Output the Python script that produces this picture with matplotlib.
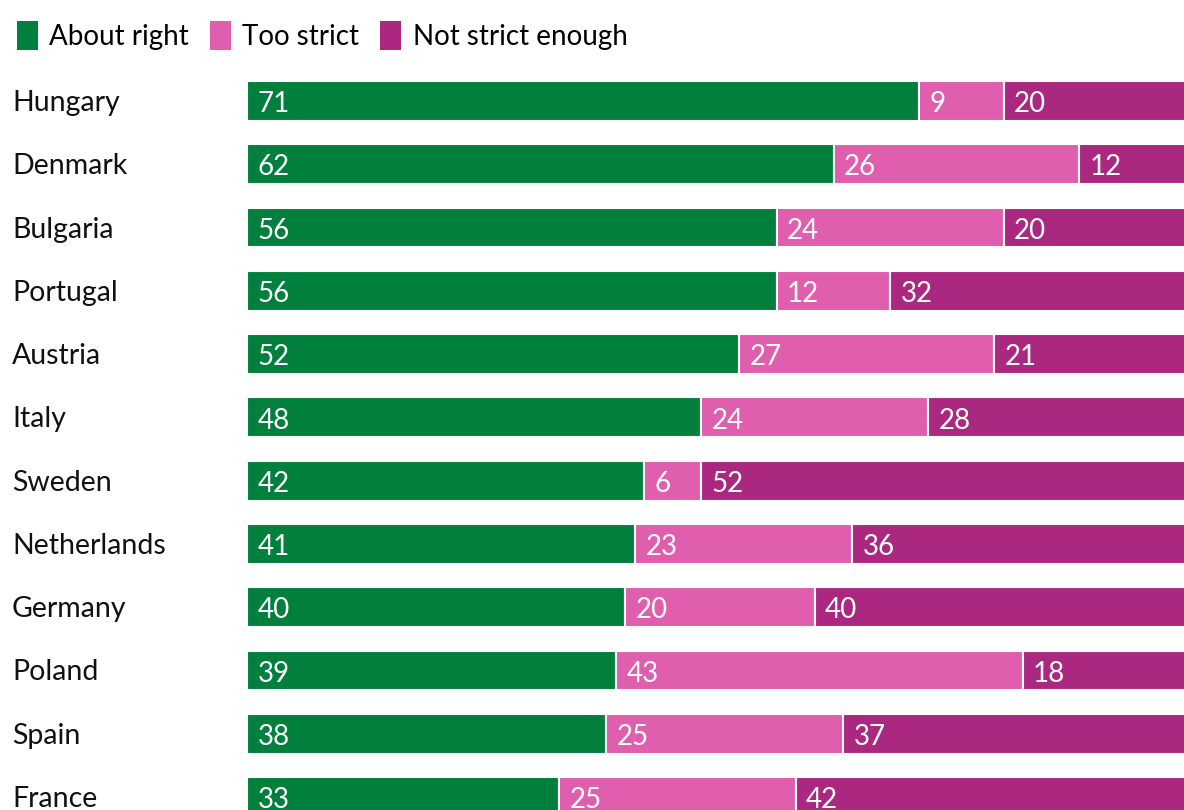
import matplotlib
matplotlib.use("Agg")
import matplotlib.pyplot as plt
from matplotlib.patches import Patch
import numpy as np

plt.rcParams['font.family'] = ['Lato', 'DejaVu Sans']

countries = ["Hungary", "Denmark", "Bulgaria", "Portugal", "Austria", "Italy",
             "Sweden", "Netherlands", "Germany", "Poland", "Spain", "France"]
about_right = [71, 62, 56, 56, 52, 48, 42, 41, 40, 39, 38, 33]
too_strict = [9, 26, 24, 12, 27, 24, 6, 23, 20, 43, 25, 25]
not_enough = [20, 12, 20, 32, 21, 28, 52, 36, 40, 18, 37, 42]

series = [("About right", about_right, "#00803C"),
          ("Too strict", too_strict, "#E05EAE"),
          ("Not strict enough", not_enough, "#AB2880")]

W, H = 1184, 810
fig = plt.figure(figsize=(W / 100, H / 100), dpi=100)
ax = fig.add_axes([247 / W, 0, 1 - 247 / W, 1])

y = np.arange(len(countries))
left = np.zeros(len(countries))
for name, vals, col in series:
    vals = np.array(vals, dtype=float)
    ax.barh(y, vals, left=left, height=0.63, color=col, edgecolor="white", linewidth=1.5)
    for yi, l, v in zip(y, left, vals):
        ax.text(l + 1.1, yi + 0.05, f"{int(v)}", color="white", fontsize=20,
                va="center", ha="left")
    left += vals

# country labels on the left
for yi, c in zip(y, countries):
    ax.annotate(c, xy=(0, yi), xycoords=("figure fraction", "data"),
                xytext=(12, -2), textcoords="offset pixels",
                fontsize=20.5, va="center", ha="left", color="#111111")

spacing = (797 - 101) / 11
ax.set_ylim(11 + 13 / spacing, -101 / spacing)
ax.set_xlim(0, (W - 247) / 9.46)
ax.axis("off")

handles = [Patch(facecolor=c, label=n) for n, _, c in series]
fig.legend(handles=handles, loc="upper left", bbox_to_anchor=(0.0, 0.995),
           bbox_transform=fig.transFigure,
           ncol=3, frameon=False, fontsize=20, handlelength=0.75, handleheight=1.25,
           handletextpad=0.42, columnspacing=0.75, borderaxespad=0.2,
           borderpad=0.4)

fig.savefig("out.png", dpi=100)
